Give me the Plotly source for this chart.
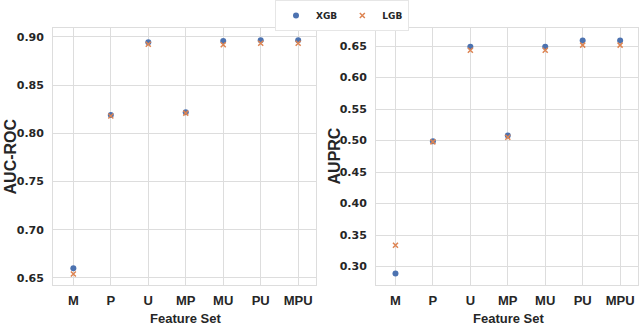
import plotly.graph_objects as go

features = ["M", "P", "U", "MP", "MU", "PU", "MPU"]
auc_xgb = [0.660, 0.819, 0.8945, 0.822, 0.8958, 0.8966, 0.8966]
auc_lgb = [0.654, 0.818, 0.8924, 0.821, 0.8920, 0.8935, 0.8935]
prc_xgb = [0.289, 0.499, 0.649, 0.508, 0.649, 0.659, 0.659]
prc_lgb = [0.334, 0.498, 0.6435, 0.5054, 0.6435, 0.6516, 0.6516]

BLUE = "#4c72b0"
ORANGE = "#dd8452"
GRID = "#dddddd"
TXT = "#262626"
TICKFONT = dict(family="DejaVu Sans", size=11, color=TXT, weight="bold")
XTICKFONT = dict(family="Liberation Sans", size=13, color=TXT, weight="bold")

fig = go.Figure()
idx = list(range(len(features)))

fig.add_trace(go.Scatter(x=idx, y=auc_xgb, mode="markers", name="XGB",
                         marker=dict(symbol="circle", size=6, color=BLUE),
                         xaxis="x", yaxis="y"))
fig.add_trace(go.Scatter(x=idx, y=auc_lgb, mode="markers", name="LGB",
                         marker=dict(symbol="x-thin", size=5, color=ORANGE,
                                     line=dict(width=1.5, color=ORANGE)),
                         xaxis="x", yaxis="y"))
fig.add_trace(go.Scatter(x=idx, y=prc_xgb, mode="markers", name="XGB", showlegend=False,
                         marker=dict(symbol="circle", size=6, color=BLUE),
                         xaxis="x2", yaxis="y2"))
fig.add_trace(go.Scatter(x=idx, y=prc_lgb, mode="markers", name="LGB", showlegend=False,
                         marker=dict(symbol="x-thin", size=5, color=ORANGE,
                                     line=dict(width=1.5, color=ORANGE)),
                         xaxis="x2", yaxis="y2"))

xax = dict(tickmode="array", tickvals=idx, ticktext=features,
           showgrid=True, gridcolor=GRID, gridwidth=1, zeroline=False,
           showline=True, linecolor=GRID, mirror=True, ticks="",
           tickfont=XTICKFONT, automargin=False, ticklabelstandoff=3)
yax = dict(tickformat=".2f", showgrid=True, gridcolor=GRID, zeroline=False,
           showline=True, linecolor=GRID, mirror=True, ticks="",
           tickfont=TICKFONT, ticklabelstandoff=6, automargin=False)
fig.update_layout(
    width=640, height=326,
    margin=dict(l=0, r=0, t=0, b=0, autoexpand=False),
    paper_bgcolor="white", plot_bgcolor="white",
    showlegend=True,
    legend=dict(orientation="h", x=342 / 640, xanchor="center", y=1.0, yanchor="top",
                bordercolor="#e6e6e6", borderwidth=1, bgcolor="white",
                font=dict(family="DejaVu Sans", size=9, color=TXT, weight="bold"),
                itemwidth=30, tracegroupgap=0),
    xaxis=dict(domain=[0.083, 0.494], anchor="y", range=[-0.54, 6.48], **xax),
    xaxis2=dict(domain=[0.5875, 0.997], anchor="y2", range=[-0.52, 6.48], **xax),
    yaxis=dict(domain=[0.126, 0.914], anchor="x", range=[0.6427, 0.9093],
               tickvals=[0.65, 0.70, 0.75, 0.80, 0.85, 0.90], **yax),
    yaxis2=dict(domain=[0.126, 0.914], anchor="x2", range=[0.2709, 0.6787],
                tickvals=[0.30, 0.35, 0.40, 0.45, 0.50, 0.55, 0.60, 0.65], **yax),
    annotations=[
        dict(text="AUC-ROC", x=10 / 640, y=0.52, xref="paper", yref="paper",
             textangle=-90, showarrow=False, xanchor="center", yanchor="middle",
             font=dict(family="Liberation Sans", size=16, color=TXT, weight="bold")),
        dict(text="AUPRC", x=334 / 640, y=0.52, xref="paper", yref="paper",
             textangle=-90, showarrow=False, xanchor="center", yanchor="middle",
             font=dict(family="Liberation Sans", size=16, color=TXT, weight="bold")),
        dict(text="Feature Set", x=185 / 640, y=1 - 318 / 326, xref="paper", yref="paper",
             showarrow=False, xanchor="center", yanchor="middle",
             font=dict(family="Liberation Sans", size=13, color=TXT, weight="bold")),
        dict(text="Feature Set", x=508 / 640, y=1 - 318 / 326, xref="paper", yref="paper",
             showarrow=False, xanchor="center", yanchor="middle",
             font=dict(family="Liberation Sans", size=13, color=TXT, weight="bold")),
    ],
)

fig.write_html("out.html", config={"displayModeBar": False},
               post_script="document.body.style.margin='0';")
